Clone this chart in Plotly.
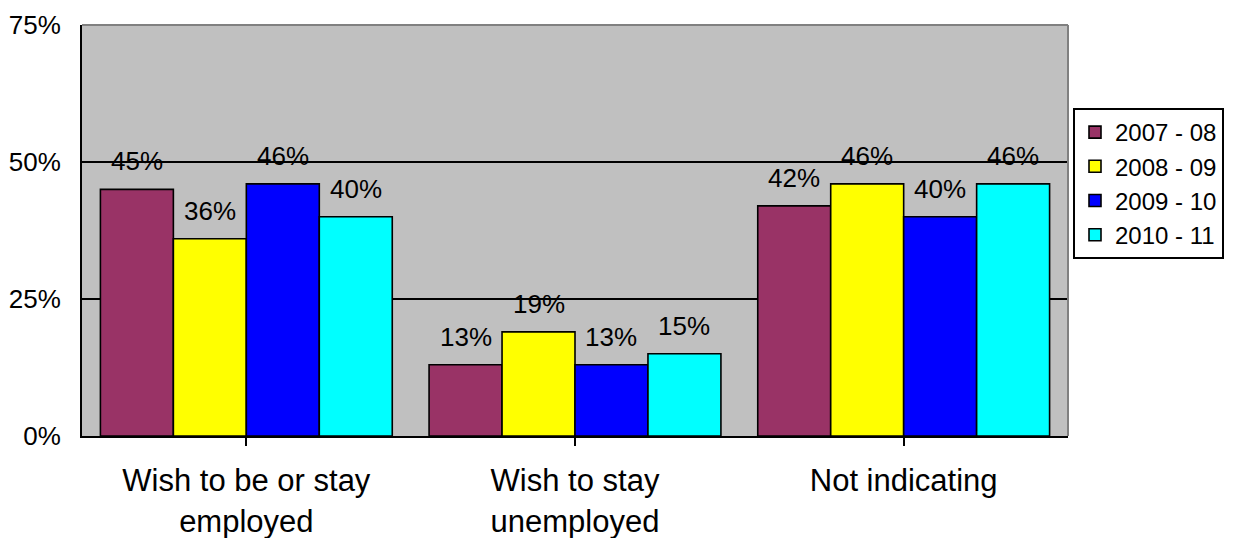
import plotly.graph_objects as go

categories = ["Wish to be or stay<br>employed", "Wish to stay<br>unemployed", "Not indicating"]
series_names = ["2007 - 08", "2008 - 09", "2009 - 10", "2010 - 11"]
values = [
    [45, 13, 42],
    [36, 19, 46],
    [46, 13, 40],
    [40, 15, 46],
]
colors = ["#993366", "#FFFF00", "#0000FF", "#00FFFF"]
y_ticks = [0, 25, 50, 75]

FONT = "Liberation Sans, Arial, sans-serif"
BARGAP = 0.112
n = len(series_names)
bar_w = (1 - BARGAP) / n

fig = go.Figure()
for i, (name, vals, col) in enumerate(zip(series_names, values, colors)):
    fig.add_trace(go.Bar(
        x=list(range(len(categories))), y=vals, name=name,
        marker=dict(color=col, line=dict(color="black", width=1.6)),
    ))

annotations = []
for i, vals in enumerate(values):
    off = (i - (n - 1) / 2) * bar_w
    for j, v in enumerate(vals):
        annotations.append(dict(
            x=j + off, y=v, xref="x", yref="y", text=f"{v}%", showarrow=False,
            yanchor="middle", yshift=28,
            font=dict(family=FONT, size=26, color="black"),
        ))

# page body has an 8px margin, so the figure is sized to fit the window
W, H = 1226, 530
fig.update_layout(
    width=W, height=H,
    margin=dict(l=74, r=166, t=17, b=102, autoexpand=False),
    paper_bgcolor="white", plot_bgcolor="#C0C0C0",
    barmode="group", bargap=BARGAP, bargroupgap=0,
    font=dict(family=FONT, size=25, color="black"),
    annotations=annotations,
    legend=dict(
        x=(1073 - 82) / 986, y=(436 - 108) / 411, xanchor="left", yanchor="top",
        bgcolor="white", bordercolor="black", borderwidth=2,
        font=dict(family=FONT, size=24, color="black"),
        tracegroupgap=0, itemwidth=30,
    ),
    shapes=[
        dict(type="line", xref="paper", yref="paper", x0=0, x1=1, y0=1, y1=1,
             line=dict(color="#808080", width=2), layer="above"),
        dict(type="line", xref="paper", yref="paper", x0=1, x1=1, y0=0, y1=1,
             line=dict(color="#808080", width=2), layer="above"),
    ],
)

fig.update_xaxes(
    tickmode="array", tickvals=list(range(len(categories))), ticktext=categories,
    range=[-0.5, len(categories) - 0.5],
    tickson="boundaries", ticks="outside", ticklen=8, tickwidth=2, tickcolor="black",
    showline=True, linecolor="black", linewidth=2, showgrid=False,
    tickfont=dict(family=FONT, size=31, color="black"),
    ticklabelstandoff=8,
)
fig.update_yaxes(
    range=[0, 75], tickvals=y_ticks, ticktext=[f"{t}%" for t in y_ticks],
    ticks="inside", ticklen=7, tickwidth=2, tickcolor="black",
    showline=True, linecolor="black", linewidth=2,
    showgrid=True, gridcolor="black", gridwidth=2, zeroline=False,
    tickfont=dict(family=FONT, size=26, color="black"),
    ticklabelstandoff=14,
)

fig.write_html("out.html")
